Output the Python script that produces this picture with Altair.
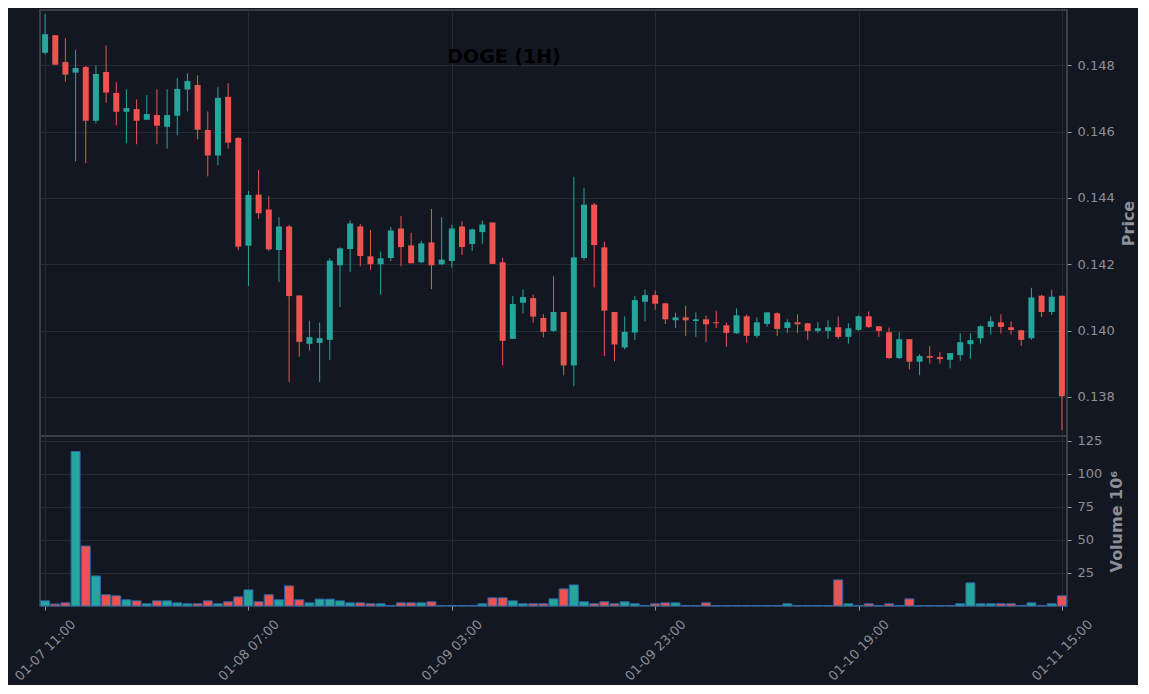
import altair as alt
import pandas as pd

# Hourly candles, 01-07 11:00 .. 01-11 15:00 (101 bars)
opens = [0.14838, 0.14891, 0.14810, 0.14778, 0.14795, 0.14633, 0.14780, 0.14717, 0.14660, 0.14668,
         0.14636, 0.14650, 0.14615, 0.14648, 0.14727, 0.14741, 0.14605, 0.14528, 0.14705, 0.14581,
         0.14256, 0.14410, 0.14365, 0.14243, 0.14314, 0.14106, 0.13960, 0.13963, 0.13972, 0.14197,
         0.14246, 0.14314, 0.14224, 0.14200, 0.14219, 0.14308, 0.14257, 0.14206, 0.14266, 0.14200,
         0.14210, 0.14314, 0.14261, 0.14297, 0.14326, 0.14206, 0.13975, 0.14084, 0.14098, 0.14038,
         0.13999, 0.14056, 0.13895, 0.14219, 0.14380, 0.14251, 0.14056, 0.13949, 0.13994, 0.14087,
         0.14107, 0.14082, 0.14031, 0.14040, 0.14029, 0.14034, 0.14025, 0.14016, 0.13992, 0.14043,
         0.13984, 0.14020, 0.14052, 0.14008, 0.14025, 0.14022, 0.13999, 0.13999, 0.14010, 0.13981,
         0.14002, 0.14043, 0.14013, 0.13995, 0.13917, 0.13974, 0.13906, 0.13923, 0.13920, 0.13912,
         0.13926, 0.13959, 0.13977, 0.14011, 0.14025, 0.14010, 0.14001, 0.13977, 0.14105, 0.14056,
         0.14105]
highs = [0.14955, 0.14891, 0.14882, 0.14846, 0.14798, 0.14800, 0.14860, 0.14749, 0.14728, 0.14697,
         0.14710, 0.14728, 0.14728, 0.14762, 0.14776, 0.14770, 0.14661, 0.14734, 0.14746, 0.14584,
         0.14421, 0.14484, 0.14406, 0.14342, 0.14319, 0.14106, 0.14030, 0.14024, 0.14218, 0.14251,
         0.14332, 0.14322, 0.14304, 0.14238, 0.14312, 0.14346, 0.14295, 0.14271, 0.14367, 0.14342,
         0.14319, 0.14329, 0.14308, 0.14332, 0.14326, 0.14220, 0.14104, 0.14124, 0.14109, 0.14050,
         0.14164, 0.14056, 0.14464, 0.14430, 0.14385, 0.14268, 0.14056, 0.14043, 0.14104, 0.14124,
         0.14121, 0.14084, 0.14054, 0.14075, 0.14055, 0.14046, 0.14060, 0.14024, 0.14067, 0.14049,
         0.14040, 0.14055, 0.14055, 0.14034, 0.14049, 0.14022, 0.14025, 0.14031, 0.14043, 0.14022,
         0.14046, 0.14058, 0.14013, 0.14009, 0.13995, 0.13974, 0.13929, 0.13953, 0.13935, 0.13932,
         0.13992, 0.13992, 0.14016, 0.14043, 0.14049, 0.14028, 0.14001, 0.14129, 0.14108, 0.14123,
         0.14105]
lows = [0.14833, 0.14802, 0.14751, 0.14511, 0.14505, 0.14625, 0.14687, 0.14619, 0.14565, 0.14562,
        0.14636, 0.14562, 0.14549, 0.14589, 0.14661, 0.14577, 0.14465, 0.14499, 0.14549, 0.14242,
        0.14135, 0.14337, 0.14240, 0.14146, 0.13845, 0.13921, 0.13940, 0.13845, 0.13911, 0.14071,
        0.14177, 0.14194, 0.14183, 0.14108, 0.14210, 0.14194, 0.14203, 0.14203, 0.14125, 0.14197,
        0.14190, 0.14228, 0.14240, 0.14262, 0.14201, 0.13895, 0.13975, 0.14052, 0.14024, 0.13979,
        0.13996, 0.13865, 0.13832, 0.14213, 0.14130, 0.13923, 0.13907, 0.13943, 0.13971, 0.14028,
        0.14063, 0.14020, 0.14008, 0.13984, 0.13981, 0.13966, 0.14008, 0.13951, 0.13990, 0.13963,
        0.13978, 0.14011, 0.13984, 0.13993, 0.13993, 0.13972, 0.13993, 0.13975, 0.13975, 0.13960,
        0.13999, 0.14008, 0.13981, 0.13914, 0.13914, 0.13883, 0.13865, 0.13900, 0.13900, 0.13886,
        0.13909, 0.13915, 0.13961, 0.13988, 0.13991, 0.13988, 0.13954, 0.13972, 0.14041, 0.14047,
        0.13700]
closes = [0.14894, 0.14802, 0.14772, 0.14792, 0.14633, 0.14774, 0.14718, 0.14660, 0.14671, 0.14633,
          0.14653, 0.14618, 0.14650, 0.14729, 0.14753, 0.14606, 0.14528, 0.14702, 0.14567, 0.14253,
          0.14409, 0.14354, 0.14245, 0.14314, 0.14104, 0.13966, 0.13980, 0.13977, 0.14211, 0.14248,
          0.14323, 0.14225, 0.14200, 0.14218, 0.14302, 0.14252, 0.14203, 0.14263, 0.14197, 0.14214,
          0.14308, 0.14252, 0.14305, 0.14320, 0.14201, 0.13969, 0.14080, 0.14101, 0.14042, 0.13996,
          0.14056, 0.13895, 0.14221, 0.14380, 0.14258, 0.14060, 0.13958, 0.13996, 0.14092, 0.14107,
          0.14081, 0.14034, 0.14040, 0.14031, 0.14034, 0.14019, 0.14022, 0.13993, 0.14046, 0.13984,
          0.14025, 0.14055, 0.14005, 0.14025, 0.14019, 0.13999, 0.14007, 0.14010, 0.13981, 0.14007,
          0.14043, 0.14011, 0.13999, 0.13917, 0.13974, 0.13906, 0.13923, 0.13918, 0.13914, 0.13932,
          0.13965, 0.13971, 0.14013, 0.14028, 0.14011, 0.14002, 0.13972, 0.14100, 0.14056, 0.14102,
          0.13802]
volumes = [3.9, 1.5, 2.4, 116.7, 45.3, 22.7, 8.5, 7.7, 4.7, 3.9,
           1.7, 3.9, 3.9, 2.4, 1.7, 1.7, 3.9, 1.7, 3.2, 6.9,
           12.2, 3.2, 8.5, 4.7, 15.2, 4.7, 2.4, 5.2, 5.2, 3.9,
           2.4, 2.4, 1.7, 1.7, 0.4, 2.4, 2.4, 2.4, 3.2, 0.3,
           0.3, 0.4, 0.3, 1.7, 6.2, 6.2, 3.9, 1.7, 1.7, 1.7,
           5.4, 12.9, 15.9, 3.2, 1.7, 3.2, 1.7, 3.2, 1.7, 0.4,
           1.7, 2.4, 2.4, 0.4, 0.3, 2.4, 0.3, 0.3, 0.4, 0.3,
           0.3, 0.3, 0.4, 1.7, 0.3, 0.4, 0.3, 0.3, 19.7, 1.7,
           0.4, 1.7, 0.3, 1.7, 0.3, 5.4, 0.3, 0.4, 0.3, 0.3,
           1.7, 17.5, 1.7, 1.7, 1.7, 1.7, 0.4, 2.4, 0.3, 1.7,
           7.7]
tick_index = [0, 20, 40, 60, 80, 100]
tick_labels = ["01-07 11:00", "01-08 07:00", "01-09 03:00", "01-09 23:00", "01-10 19:00", "01-11 15:00"]
price_ticks = [0.138, 0.140, 0.142, 0.144, 0.146, 0.148]
volume_ticks = [25, 50, 75, 100, 125]
title_text = "DOGE (1H)"

UP = "#26a69a"
DOWN = "#ef5350"
BG = "#131722"
GRID = "#252a35"
FRAME = "#3a3e47"
LABEL = "#8c9099"
TICK = "#9598a1"

df = pd.DataFrame({
    "i": list(range(len(opens))),
    "open": opens, "high": highs, "low": lows, "close": closes, "volume": volumes,
})
df["dir"] = ["up" if c >= o else "down" for o, c in zip(opens, closes)]

color = alt.Color("dir:N", scale=alt.Scale(domain=["up", "down"], range=[UP, DOWN]), legend=None)
xscale = alt.Scale(domain=[-0.5, 100.5], nice=False, zero=False, padding=0)

label_expr = ("[" + ",".join("'%s'" % s for s in tick_labels) + "][indexof(["
              + ",".join(str(v) for v in tick_index) + "], datum.value)]")

x_price = alt.X("i:Q", scale=xscale,
                axis=alt.Axis(values=tick_index, labels=False, ticks=False, domain=False,
                              grid=True, gridColor=GRID, title=None))
x_vol = alt.X("i:Q", scale=xscale,
              axis=alt.Axis(values=tick_index, labelExpr=label_expr, labelAngle=315,
                            labelAlign="center", labelBaseline="middle", labelPadding=40,
                            labelFontSize=13, labelColor=LABEL, tickColor=TICK, tickSize=4,
                            domain=False, grid=True, gridColor=GRID, title=None,
                            labelOverlap=False, labelFlush=False))

yscale = alt.Scale(domain=[0.13682, 0.14967], nice=False, zero=False)
y_price = alt.Y("low:Q", scale=yscale,
                axis=alt.Axis(orient="right", values=price_ticks, format=".3f",
                              labelFontSize=13, labelColor=LABEL, tickColor=TICK, tickSize=4,
                              labelPadding=6, domain=False, grid=True, gridColor=GRID,
                              title="Price", titleAngle=270, titleBaseline="top",
                              titleFontSize=16, titleFontWeight="bold", titleColor=LABEL,
                              titlePadding=6))

base = alt.Chart(df)
wicks = base.mark_rule(strokeWidth=1).encode(x=x_price, y=y_price, y2="high:Q", color=color)
bodies = base.mark_bar(size=6).encode(
    x=x_price, y=alt.Y("open:Q", scale=yscale), y2="close:Q", color=color)
title = alt.Chart(pd.DataFrame({"t": [title_text]})).mark_text(
    font="DejaVu Sans", fontSize=19, fontWeight="bold", color="#000000",
    align="center", baseline="alphabetic").encode(
    text="t:N", x=alt.value(464), y=alt.value(53))

price = alt.layer(wicks, bodies, title).properties(width=1027, height=426)

vol = base.mark_bar(size=9, stroke="#2866a8", strokeWidth=1).encode(
    x=x_vol,
    y=alt.Y("volume:Q", scale=alt.Scale(domain=[0, 128.4], nice=False),
            axis=alt.Axis(orient="right", values=volume_ticks, labelFontSize=13,
                          labelColor=LABEL, tickColor=TICK, tickSize=4, labelPadding=6,
                          domain=False, grid=True, gridColor=GRID,
                          title="Volume  10⁶", titleAngle=270, titleBaseline="top",
                          titleFontSize=16, titleFontWeight="bold", titleColor=LABEL,
                          titlePadding=7)),
    color=color,
).properties(width=1027, height=170)

chart = alt.vconcat(price, vol, spacing=0, bounds="flush").configure(
    background=BG, font="DejaVu Sans",
    padding={"left": 3, "top": 1, "right": 0, "bottom": 0},
).configure_view(stroke=FRAME, strokeWidth=2)

chart.save("out.html", embed_options={"renderer": "svg", "actions": False})
